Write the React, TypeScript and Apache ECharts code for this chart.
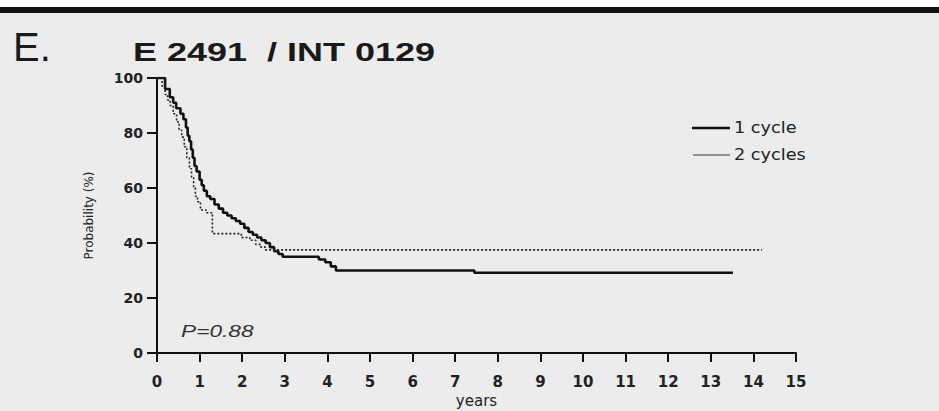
import React, { useEffect, useRef } from "react";
import * as echarts from "echarts";

// Kaplan-Meier estimates: time in years, probability in %
const oneCycleYears = [0, 0.19, 0.3, 0.38, 0.45, 0.55, 0.62, 0.68, 0.72, 0.76, 0.8, 0.84, 0.88, 0.93, 1.0, 1.05, 1.1, 1.17, 1.25, 1.35, 1.45, 1.55, 1.65, 1.75, 1.85, 1.95, 2.05, 2.15, 2.25, 2.35, 2.45, 2.55, 2.65, 2.75, 2.85, 2.95, 3.8, 3.95, 4.08, 4.2, 7.45, 13.52];
const oneCycleProb = [100, 96, 93, 91, 89, 87, 85, 82, 79, 77, 74, 71, 68, 66, 63, 61, 59, 57, 56, 54, 52.5, 51, 50, 49, 48, 47, 45.5, 44, 43, 42, 41, 40, 38.5, 37, 36, 35, 34, 33, 31.5, 30, 29.2, 29.2];

const twoCycleYears = [0, 0.12, 0.19, 0.25, 0.31, 0.38, 0.46, 0.52, 0.58, 0.64, 0.7, 0.76, 0.81, 0.86, 0.9, 0.95, 1.02, 1.15, 1.3, 1.98, 2.18, 2.32, 2.44, 2.55, 14.2];
const twoCycleProb = [100, 97, 94, 92, 90, 87, 84, 81, 78.5, 75, 71, 67, 64, 60, 57, 55, 52, 51, 43.4, 42, 41, 39.5, 38.5, 37.5, 37.5];

const seriesNames = ["1 cycle", "2 cycles"];
const yearRange = [0, 15];
const probRange = [0, 100];

const panelLetter = "E.";
const studyTitle = "E 2491  / INT 0129";
const pValueText = "P=0.88";

const pairs = (xs: number[], ys: number[]) => xs.map((x, i) => [x, ys[i]]);

export default function App() {
  const ref = useRef<HTMLDivElement>(null);

  useEffect(() => {
    if (!ref.current) return;
    const chart = echarts.init(ref.current, null, { renderer: "svg" });
    const wideFont = "DejaVu Sans, sans-serif";
    const ink = "#1a1a1a";
    chart.setOption({
      animation: false,
      backgroundColor: "#ececec",
      grid: { left: 157, right: 143, top: 78, bottom: 58, containLabel: false, outerBoundsMode: "none" },
      xAxis: {
        type: "value",
        min: yearRange[0],
        max: yearRange[1],
        interval: 1,
        name: "years",
        nameLocation: "middle",
        nameGap: 40,
        nameTextStyle: { fontFamily: wideFont, fontSize: 15, color: "#222" },
        axisLine: { onZero: false, lineStyle: { color: "#111", width: 2 } },
        axisTick: { length: 9, lineStyle: { color: "#111", width: 2 } },
        axisLabel: { fontFamily: wideFont, fontSize: 15, fontWeight: "bold", color: "#222", margin: 21 },
        splitLine: { show: false },
      },
      yAxis: {
        type: "value",
        min: probRange[0],
        max: probRange[1],
        interval: 20,
        name: "Probability (%)",
        nameLocation: "middle",
        nameGap: 62,
        nameTextStyle: { fontFamily: wideFont, fontSize: 12, color: "#222" },
        axisLine: { show: true, lineStyle: { color: "#111", width: 2 } },
        axisTick: { show: true, length: 10, lineStyle: { color: "#111", width: 2 } },
        axisLabel: { fontFamily: wideFont, fontSize: 14, fontWeight: "bold", color: "#222", margin: 14 },
        splitLine: { show: false },
      },
      legend: { show: false },
      series: [
        {
          name: seriesNames[0],
          type: "line",
          step: "end",
          symbol: "none",
          data: pairs(oneCycleYears, oneCycleProb),
          lineStyle: { color: "#111", width: 2.6 },
          itemStyle: { color: "#111" },
        },
        {
          name: seriesNames[1],
          type: "line",
          step: "end",
          symbol: "none",
          data: pairs(twoCycleYears, twoCycleProb),
          lineStyle: { color: "#222", width: 1.6, type: [2, 2] },
          itemStyle: { color: "#222" },
        },
      ],
      graphic: [
        { type: "rect", left: 0, top: 0, shape: { width: 939, height: 7 }, style: { fill: "#ffffff" } },
        { type: "rect", left: 0, top: 7, shape: { width: 939, height: 6 }, style: { fill: "#111111" } },
        {
          type: "text",
          x: 13,
          y: 47,
          style: { text: panelLetter, font: "40px Liberation Sans, Arial, sans-serif", fill: ink, textVerticalAlign: "middle" },
        },
        {
          type: "text",
          x: 133,
          y: 53,
          scaleX: 1.44,
          style: { text: studyTitle, font: "bold 25px Liberation Sans, Arial, sans-serif", fill: ink, textVerticalAlign: "middle" },
        },
        {
          type: "text",
          x: 181,
          y: 331,
          scaleX: 1.42,
          style: { text: pValueText, font: "italic 16px Liberation Sans, Arial, sans-serif", fill: "#333", textVerticalAlign: "middle" },
        },
        // legend key
        { type: "line", shape: { x1: 692, y1: 128, x2: 730, y2: 128 }, style: { stroke: "#111", lineWidth: 2.6 } },
        { type: "line", shape: { x1: 693, y1: 155, x2: 730, y2: 155 }, style: { stroke: "#777", lineWidth: 1.3 } },
        {
          type: "text",
          x: 734,
          y: 128,
          scaleX: 1.18,
          style: { text: seriesNames[0], font: "15px DejaVu Sans, sans-serif", fill: "#222", textVerticalAlign: "middle" },
        },
        {
          type: "text",
          x: 734,
          y: 155,
          scaleX: 1.18,
          style: { text: seriesNames[1], font: "15px DejaVu Sans, sans-serif", fill: "#222", textVerticalAlign: "middle" },
        },
      ],
    });
    return () => chart.dispose();
  }, []);

  return <div ref={ref} style={{ position: "fixed", left: 0, top: 0, width: 939, height: 411 }} />;
}
